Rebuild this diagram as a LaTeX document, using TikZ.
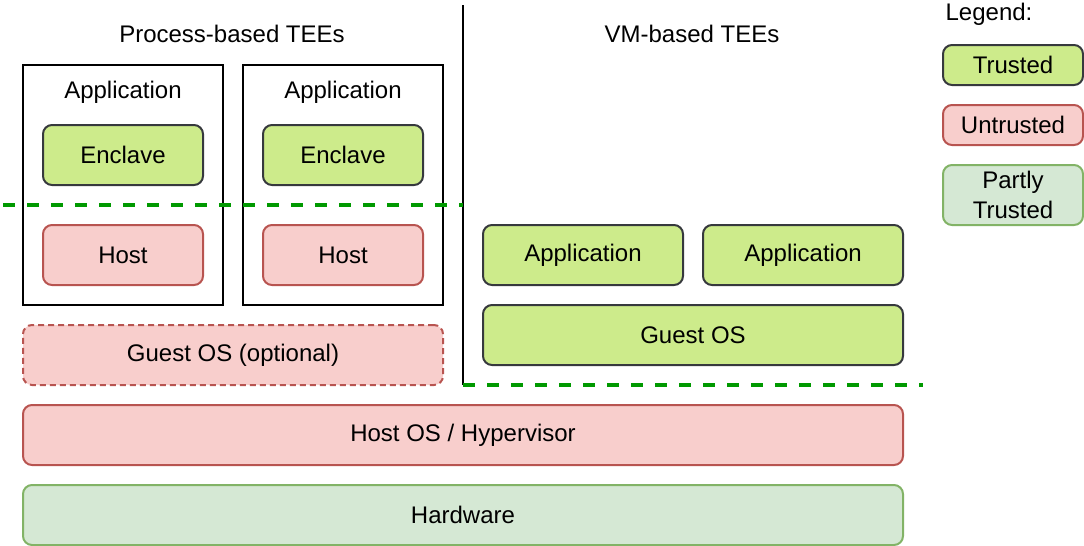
\documentclass[tikz,border=0pt]{standalone}
\usepackage{fontspec}
\setmainfont{Liberation Sans}
\usetikzlibrary{positioning}

\definecolor{trustfill}{HTML}{CDEB8B}
\definecolor{trustdraw}{HTML}{36393D}
\definecolor{untrustfill}{HTML}{F8CECC}
\definecolor{untrustdraw}{HTML}{B85450}
\definecolor{partfill}{HTML}{D5E8D4}
\definecolor{partdraw}{HTML}{82B366}
\definecolor{bordergreen}{HTML}{009900}

\tikzset{
		basic/.style    = {draw, line width=2pt, rectangle, inner sep=0pt, outer sep=0pt, align=center, font=\fontsize{24}{30}\selectfont},
		trusted/.style  = {basic, rounded corners=9pt, fill=trustfill, draw=trustdraw},
		untrusted/.style = {basic, rounded corners=9pt, fill=untrustfill, draw=untrustdraw},
		partly/.style   = {basic, rounded corners=9pt, fill=partfill, draw=partdraw},
		appbox/.style   = {basic, draw=black, minimum width=200pt, minimum height=240pt},
		caption/.style  = {inner sep=0pt, font=\fontsize{24}{30}\selectfont},
		boundary/.style = {draw=bordergreen, line width=3.5pt, dash pattern=on 12pt off 12pt}
	}

\begin{document}
\begin{tikzpicture}[x=1pt, y=-1pt]
		\useasboundingbox (0,0) rectangle (1084,546);
		
		% the two headings and the separator
		\node[caption] (proc) at (232,34) {Process-based TEEs};
		\node[caption] (vm) at (692,34) {VM-based TEEs};
		\coordinate (sep top) at (463,5);
		\coordinate (sep bot) at (463,385);
		\draw[line width=2pt] (sep top) -- (sep bot);
		
		% process-based side, one application box per enclave
		\foreach \i/\x in {1/123, 2/343} {
			\node[appbox] (app\i) at (\x,185) {};
			\node[caption] (app\i t) at (\x,92) {Application};
			\node[trusted, minimum width=160pt, minimum height=60pt] (enc\i) at (\x,155) {Enclave};
			\node[untrusted, minimum width=160pt, minimum height=60pt] (host\i) at (\x,255) {Host};
		}
		\node[untrusted, dash pattern=on 6pt off 4pt, minimum width=420pt, minimum height=60pt] (gos1) at (233,355) {Guest OS (optional)};
		
		% VM-based side
		\node[trusted, minimum width=200pt, minimum height=60pt] (vmapp1) at (583,255) {Application};
		\node[trusted, minimum width=200pt, minimum height=60pt, right=20pt of vmapp1] (vmapp2) {Application};
		\node[trusted, minimum width=420pt, minimum height=60pt] (gos2) at (693,335) {Guest OS};
		
		% shared layers
		\node[untrusted, minimum width=880pt, minimum height=60pt] (hyp) at (463,435) {Host OS / Hypervisor};
		\node[partly, minimum width=880pt, minimum height=60pt, below=20pt of hyp] (hw) {Hardware};
		
		% trust boundaries
		\coordinate (tb1) at (3,205);
		\coordinate (tb2) at (463,205);
		\coordinate (tb3) at (923,385);
		\draw[boundary] (tb1) -- (tb2);
		\draw[boundary] (sep bot) -- (tb3);
		
		% legend
		\node[caption] (leg) at (989,14) {Legend:};
		\node[trusted, minimum width=140pt, minimum height=40pt] (lt) at (1013,65) {Trusted};
		\node[untrusted, minimum width=140pt, minimum height=40pt, below=20pt of lt] (lu) {Untrusted};
		\node[partly, minimum width=140pt, minimum height=60pt, below=20pt of lu] (lp) {Partly\\Trusted};
		
	\end{tikzpicture}
\end{document}
